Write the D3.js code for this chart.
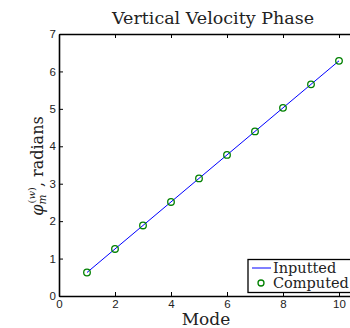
<!DOCTYPE html>
<html><head><meta charset="utf-8">
<script src="https://cdn.jsdelivr.net/npm/d3@7"></script>
<style>body{margin:0;background:#fff;overflow:hidden}svg{display:block}</style>
</head><body>
<script>
const modes = [1,2,3,4,5,6,7,8,9,10];
const inputted = [0.628,1.257,1.885,2.513,3.142,3.770,4.398,5.027,5.655,6.283];
const computed = [0.628,1.257,1.885,2.513,3.142,3.770,4.398,5.027,5.655,6.283];
const xTicks = [0,2,4,6,8,10];
const yTicks = [0,1,2,3,4,5,6,7];
const title = "Vertical Velocity Phase";
const xLabel = "Mode";
const legendLabels = ["Inputted","Computed"];

const W=350,H=328;
const svg=d3.select("body").append("svg").attr("width",W).attr("height",H);
const x=d3.scaleLinear().domain([0,11]).range([59,367]);
const y=d3.scaleLinear().domain([0,7]).range([296,34]);
const serif="'DejaVu Serif','Liberation Serif',serif";
const sans="'Liberation Sans',Arial,sans-serif";

// axes
const gx=svg.append("g").attr("transform","translate(0,296)")
  .call(d3.axisBottom(x).tickValues(xTicks).tickFormat(d3.format("d")).tickSizeInner(-4).tickSizeOuter(0).tickPadding(4));
const gxt=svg.append("g").attr("transform","translate(0,34)")
  .call(d3.axisTop(x).tickValues(xTicks).tickSizeInner(-4).tickSizeOuter(0).tickFormat(""));
const gy=svg.append("g").attr("transform","translate(59,0)")
  .call(d3.axisLeft(y).tickValues(yTicks).tickFormat(d3.format("d")).tickSizeInner(-4).tickSizeOuter(0).tickPadding(3));
[gx,gxt,gy].forEach(g=>{
  g.select(".domain").attr("stroke","#000").attr("stroke-width",1.6);
  g.selectAll(".tick line").attr("stroke","#000").attr("stroke-width",1);
  g.selectAll(".tick text").attr("font-family",sans).attr("font-size",11.5).attr("fill","#222");
});

// line
svg.append("path").datum(modes.map((m,i)=>[m,inputted[i]]))
  .attr("d",d3.line().x(d=>x(d[0])).y(d=>y(d[1])))
  .attr("fill","none").attr("stroke","#0000ff").attr("stroke-width",1);
// markers
svg.selectAll("circle.pt").data(modes.map((m,i)=>[m,computed[i]])).enter().append("circle")
  .attr("class","pt").attr("cx",d=>x(d[0])).attr("cy",d=>y(d[1])).attr("r",3.3)
  .attr("fill","none").attr("stroke","#008000").attr("stroke-width",1.3);

// title
svg.append("text").attr("x",213).attr("y",24).attr("text-anchor","middle")
  .attr("font-family",serif).attr("font-size",17.5).attr("fill","#222").text(title);
// x label
svg.append("text").attr("x",206).attr("y",325).attr("text-anchor","middle")
  .attr("font-family",serif).attr("font-size",17).attr("fill","#222").text(xLabel);
// y label
const yl=svg.append("text").attr("transform","translate(43,166) rotate(-90)")
  .attr("text-anchor","middle").attr("font-family",serif).attr("font-size",16).attr("fill","#222");
yl.append("tspan").attr("font-style","italic").text("φ");
yl.append("tspan").attr("font-style","italic").attr("font-size",10.5).attr("dy",3).text("m");
yl.append("tspan").attr("font-size",10).attr("dx",-9).attr("dy",-11).text("(");
yl.append("tspan").attr("font-size",10).attr("font-style","italic").text("w");
yl.append("tspan").attr("font-size",10).text(")");
yl.append("tspan").attr("dy",8).text(", radians");

// legend
const lg=svg.append("g");
lg.append("rect").attr("x",248).attr("y",259.5).attr("width",110).attr("height",33)
  .attr("fill","#fff").attr("stroke","#000").attr("stroke-width",1.3);
lg.append("line").attr("x1",252).attr("x2",271).attr("y1",268).attr("y2",268)
  .attr("stroke","#0000ff").attr("stroke-width",1);
lg.append("circle").attr("cx",261).attr("cy",283).attr("r",3)
  .attr("fill","none").attr("stroke","#008000").attr("stroke-width",1.3);
legendLabels.forEach((t,i)=>{
  lg.append("text").attr("x",273).attr("y",273+i*15).attr("font-family",serif)
    .attr("font-size",14.5).attr("fill","#222").text(t);
});
</script>
</body></html>
